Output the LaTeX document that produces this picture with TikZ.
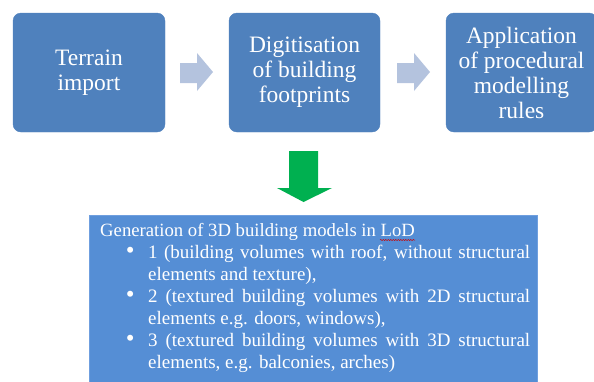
\documentclass[tikz,border=0pt]{standalone}
\usepackage{fontspec}
\setmainfont{Liberation Serif}
\usetikzlibrary{decorations.pathmorphing}
\definecolor{boxblue}{HTML}{4F81BD}
\definecolor{lodblue}{HTML}{558ED5}
\definecolor{lodedge}{HTML}{6F9FDF}
\definecolor{arrowgray}{HTML}{B4C3DE}
\definecolor{greenarrow}{HTML}{00B050}
\tikzset{
  stepbox/.style={fill=boxblue, draw=boxblue, rounded corners=8pt},
  steptext/.style={text=white, align=center, font=\fontsize{23.5}{25}\selectfont},
  graybigarrow/.style={fill=arrowgray, draw=none},
  itemtext/.style={anchor=north west, text=white, inner sep=0pt, text width=382pt,
    align=justify, font=\fontsize{19}{22}\selectfont},
}
\newcommand{\lodbullet}{\leavevmode\llap{\raisebox{-0.5pt}{\fontsize{25}{22}\selectfont\textbullet}\hspace{13.5pt}}}
\begin{document}
\begin{tikzpicture}[x=1pt,y=-1pt]
\useasboundingbox (0,0) rectangle (594,381);
% top boxes
\draw[stepbox] (13,13) rectangle (165,132);
\node[steptext] (b1) at (89,72.5) {Terrain\\import};
\draw[stepbox] (229,13) rectangle (380,132);
\node[steptext] (b2) at (304.5,72.5) {Digitisation\\of building\\footprints};
\draw[stepbox] (446,13) rectangle (597,132);
\node[steptext] (b3) at (521.5,72.5) {Application\\of procedural\\modelling\\rules};
% gray arrows
\fill[graybigarrow] (180,63) -- (197,63) -- (197,53) -- (213,72) -- (197,91) -- (197,83) -- (180,83) -- cycle;
\fill[graybigarrow] (397,63) -- (414,63) -- (414,53) -- (430,72) -- (414,91) -- (414,83) -- (397,83) -- cycle;
% green arrow
\fill[greenarrow] (289,151) -- (318,151) -- (318,188) -- (332,188) -- (303.5,202) -- (277,188) -- (289,188) -- cycle;
% bottom box
\fill[lodblue] (89,215) rectangle (538,382);
\draw[lodedge, line width=0.8pt] (89.4,382) -- (89.4,215.4) -- (537.6,215.4) -- (537.6,382);
\node[anchor=base west, text=white, inner sep=0pt, font=\fontsize{18.7}{22}\selectfont] (hdr) at (100,236) {Generation of 3D building models in LoD};
\draw[red!80!black, line width=0.5pt, decorate, decoration={snake, amplitude=0.6pt, segment length=2.5pt}] (380,240) -- (415,240);
\node[itemtext] (items) at (148,242.6) {%
  \hyphenpenalty=10000 \exhyphenpenalty=10000 \tolerance=9999 \parindent=0pt
  \lodbullet\strut 1 (building volumes with roof, without structural elements and texture),\par
  \lodbullet\strut 2 (textured building volumes with 2D structural elements e.g. doors, windows),\par
  \lodbullet\strut 3 (textured building volumes with 3D structural elements, e.g. balconies, arches)\par};
\end{tikzpicture}
\end{document}
